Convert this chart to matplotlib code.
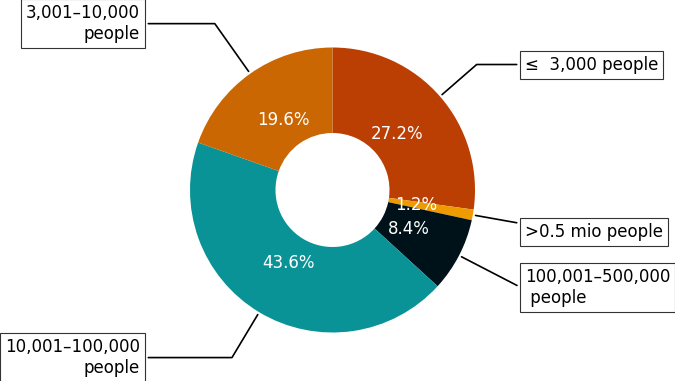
import numpy as np
import matplotlib.pyplot as plt

labels = ["\u2264  3,000 people", ">0.5 mio people", "100,001\u2013500,000\n people",
          "10,001\u2013100,000\npeople", "3,001\u201310,000\npeople"]
shares = [27.2, 1.2, 8.4, 43.6, 19.6]
colors = ["#BB3E03", "#EE9B00", "#001219", "#0A9396", "#CA6702"]
# small vertical nudges of the label boxes (pixels, + is down)
nudge = [5.5, 7, 5.5, -3.5, -3.5]

W, H = 675, 381
R = 142.5           # outer radius in pixels
cx, cy = 332.5, 190  # centre, pixels from top left

fig = plt.figure(figsize=(W / 100, H / 100), dpi=100)
ax = fig.add_axes([0, 0, 1, 1])

wedges, texts, autotexts = ax.pie(
    shares, colors=colors, startangle=90, counterclock=False,
    autopct="%1.1f%%", pctdistance=0.6,
    wedgeprops=dict(width=0.6, linewidth=0),
    textprops=dict(color="white", fontsize=12))

bbox_props = dict(boxstyle="square,pad=0.3", fc="w", ec="#333333", lw=0.8)
kw = dict(arrowprops=dict(arrowstyle="-", color="black", lw=1.2),
          bbox=bbox_props, zorder=0, va="center", fontsize=12)

for i, p in enumerate(wedges):
    ang = (p.theta2 - p.theta1) / 2. + p.theta1
    y = np.sin(np.deg2rad(ang))
    x = np.cos(np.deg2rad(ang))
    ha = {-1: "right", 1: "left"}[int(np.sign(x))]
    kw["arrowprops"].update({"connectionstyle": f"angle,angleA=0,angleB={ang}"})
    ax.annotate(labels[i], xy=(x, y),
                xytext=(1.35 * np.sign(x), 1.4 * y - nudge[i] / R),
                horizontalalignment=ha, multialignment=ha, **kw)

ax.set_xlim(-cx / R, (W - cx) / R)
ax.set_ylim(-(H - cy) / R, cy / R)
ax.set_aspect("equal", adjustable="box")
ax.axis("off")

fig.savefig("out.png", dpi=100)
